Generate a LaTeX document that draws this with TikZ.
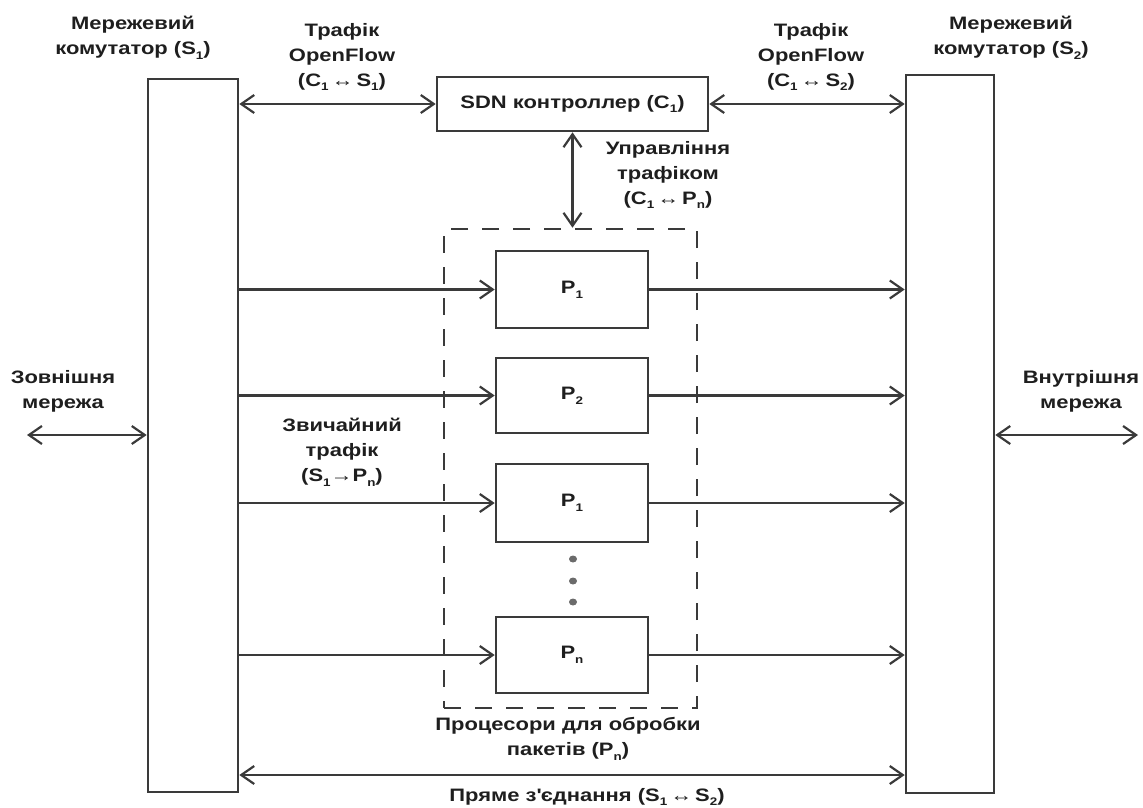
\documentclass[tikz,border=0pt]{standalone}
\usepackage{fontspec}
\setmainfont{Liberation Sans}[FakeStretch=1.22]
\usetikzlibrary{arrows.meta,shapes.geometric}
\newcommand{\sbs}[1]{\raisebox{-0.5ex}{\fontsize{11}{11}\selectfont #1}}
\definecolor{ln}{HTML}{3A3A3A}
\definecolor{tx}{HTML}{1E1E1E}
\begin{document}
\begin{tikzpicture}[x=1pt,y=-1pt,
  box/.style={draw=ln,line width=2.6pt,inner sep=0pt,fill=white},
  lab/.style={align=center,text=tx,font=\fontsize{18}{25}\selectfont\bfseries,inner sep=0pt},
  arr/.style={draw=ln,line width=2.2pt,-{Straight Barb[length=13pt,width=18pt,line width=2.2pt]}},
  darr/.style={draw=ln,line width=2.2pt,{Straight Barb[length=13pt,width=18pt,line width=2.2pt]}-{Straight Barb[length=13pt,width=18pt,line width=2.2pt]}},
  dashbox/.style={draw=ln,line width=2.6pt,dash pattern=on 17pt off 14pt,inner sep=0pt}]
\useasboundingbox (0,0) rectangle (1143,807);
% switches
\node[box,minimum width=90pt,minimum height=713pt] (s1) at (193,435.5) {};
\node[box,minimum width=88pt,minimum height=718pt] (s2) at (950,434) {};
% controller
\node[box,minimum width=271pt,minimum height=54pt,lab] (ctrl) at (572.5,104) {SDN контроллер (C\sbs{1})};
% processors group
\node[dashbox,minimum width=253pt,minimum height=479pt] (proc) at (570.5,468.5) {};
\node[box,minimum width=152pt,minimum height=77pt,lab] (p1) at (572,289.5) {P\sbs{1}};
\node[box,minimum width=152pt,minimum height=75pt,lab] (p2) at (572,395.5) {P\sbs{2}};
\node[box,minimum width=152pt,minimum height=78pt,lab] (p3) at (572,503) {P\sbs{1}};
\node[box,minimum width=152pt,minimum height=76pt,lab] (pn) at (572,655) {P\sbs{n}};
% dots
\foreach \yy/\nm in {559/d1,581/d2,602/d3}
  \node[ellipse,fill=ln!75,inner sep=0pt,minimum width=8pt,minimum height=7pt] (\nm) at (573,\yy) {};
% coordinates
\coordinate (ext) at (27,435);
\coordinate (int) at (1138,435);
\coordinate (bot) at (572,775);
% connectors
\draw[darr] (s1.east |- ctrl.west) -- (ctrl.west);
\draw[darr] (ctrl.east) -- (s2.west |- ctrl.east);
\draw[darr] (ctrl.south) -- (ctrl.south |- proc.north);
\foreach \p in {p1,p2,p3,pn}{
  \draw[arr] (s1.east |- \p.west) -- (\p.west);
  \draw[arr] (\p.east) -- (s2.west |- \p.east);
}
\draw[darr] (ext) -- (s1.west |- ext);
\draw[darr] (s2.east |- int) -- (int);
\draw[darr] (s1.east |- bot) -- (s2.west |- bot);
% labels
\node[lab] (ls1) at (133,38) {Мережевий\\комутатор (S\sbs{1})};
\node[lab] (ls2) at (1011,38) {Мережевий\\комутатор (S\sbs{2})};
\node[lab] (lof1) at (342,57) {Трафік\\OpenFlow\\(C\sbs{1}\,↔\,S\sbs{1})};
\node[lab] (lof2) at (811,57) {Трафік\\OpenFlow\\(C\sbs{1}\,↔\,S\sbs{2})};
\node[lab] (lupr) at (668,175) {Управління\\трафіком\\(C\sbs{1}\,↔\,P\sbs{n})};
\node[lab] (lext) at (63,391) {Зовнішня\\мережа};
\node[lab] (lint) at (1081,391) {Внутрішня\\мережа};
\node[lab] (lzv) at (342,452) {Звичайний\\трафік\\(S\sbs{1}→P\sbs{n})};
\node[lab] (lproc) at (568,739) {Процесори для обробки\\пакетів (P\sbs{n})};
\node[lab] (lpr) at (587,797) {Пряме з\textquotesingle єднання (S\sbs{1}\,↔\,S\sbs{2})};
\end{tikzpicture}
\end{document}
